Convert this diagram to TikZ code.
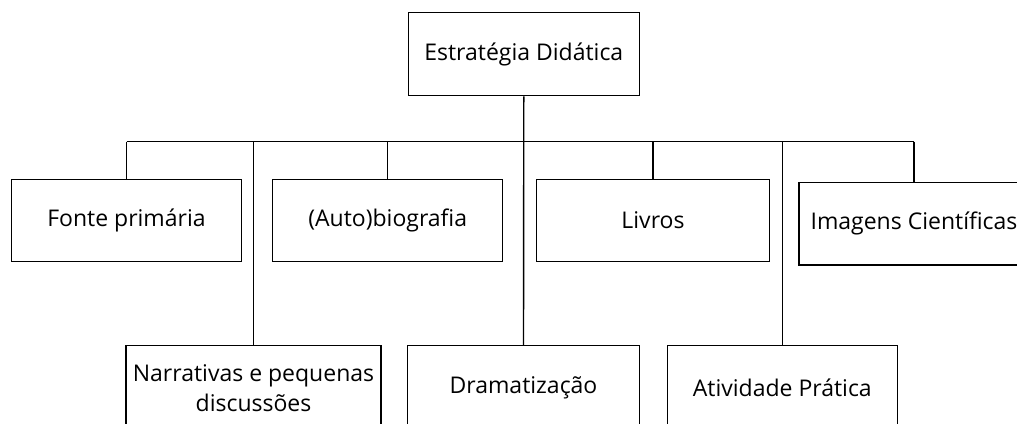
\documentclass[tikz,border=0pt]{standalone}
\usepackage{fontspec}
\setmainfont{Open Sans}
\begin{document}
\begin{tikzpicture}[x=1pt,y=1pt,
  box/.style={draw=black, line width=1.4pt, rectangle, minimum height=82.5pt, inner sep=0pt, align=center, font=\fontsize{23}{30}\selectfont},
  link/.style={draw=black, line width=1.4pt}]
\useasboundingbox (0,0) rectangle (1017,423);
\begin{scope}
\clip (0,0) rectangle (1017,423);
\node[box, minimum width=231pt, minimum height=83pt] (top) at (523.8,368.8) {Estratégia Didática};
\node[box, minimum width=229.6pt] (fonte) at (126.5,202.5) {Fonte primária};
\node[box, minimum width=230pt] (auto) at (387.7,202.5) {(Auto)biografia};
\node[box, minimum width=232.6pt] (livros) at (653,202.5) {Livros};
\node[box, minimum width=230.3pt] (imagens) at (914,199.2) {Imagens Científicas};
\node[box, minimum width=255pt, minimum height=84pt] (narr) at (253.5,35.3) {Narrativas e pequenas\\discussões};
\node[box, minimum width=232.3pt, minimum height=84pt] (drama) at (523.5,35.3) {Dramatização};
\node[box, minimum width=230pt, minimum height=84pt] (ativ) at (782.3,35.3) {Atividade Prática};
\coordinate (bar) at (523.5,281.3);
\draw[link] (top.south) -- (drama.north);
\draw[link] (fonte.north |- bar) -- (imagens.north |- bar);
\foreach \c in {fonte,auto,livros,imagens,narr,ativ}
  \draw[link] (\c.north |- bar) -- (\c.north);
\end{scope}
\end{tikzpicture}
\end{document}
